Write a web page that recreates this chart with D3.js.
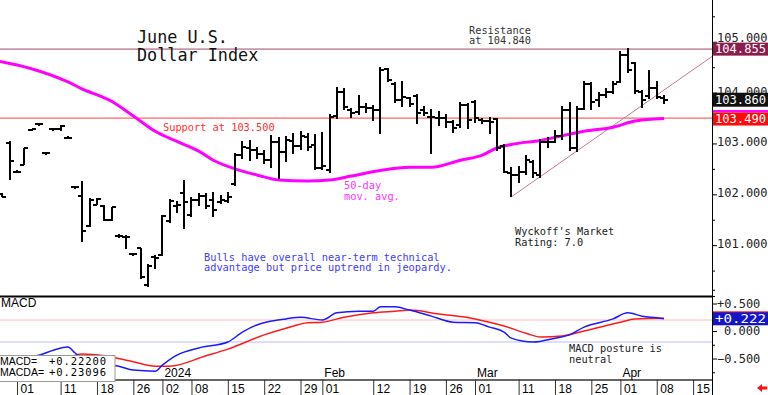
<!DOCTYPE html>
<html><head><meta charset="utf-8">
<script src="https://cdn.jsdelivr.net/npm/d3@7"></script>
<style>
html,body{margin:0;padding:0;background:#fff;}
svg{display:block;}
</style></head><body>
<svg id="c" width="768" height="395"></svg>
<script>
// ---- trading sessions shown on the time axis ----
const sessions = ["2023-11-28","2023-11-29","2023-11-30","2023-12-01","2023-12-04","2023-12-05","2023-12-06","2023-12-07","2023-12-08","2023-12-11","2023-12-12","2023-12-13","2023-12-14","2023-12-15","2023-12-18","2023-12-19","2023-12-20","2023-12-21","2023-12-22","2023-12-26","2023-12-27","2023-12-28","2023-12-29","2024-01-02","2024-01-03","2024-01-04","2024-01-05","2024-01-08","2024-01-09","2024-01-10","2024-01-11","2024-01-12","2024-01-15","2024-01-16","2024-01-17","2024-01-18","2024-01-19","2024-01-22","2024-01-23","2024-01-24","2024-01-25","2024-01-26","2024-01-29","2024-01-30","2024-01-31","2024-02-01","2024-02-02","2024-02-05","2024-02-06","2024-02-07","2024-02-08","2024-02-09","2024-02-12","2024-02-13","2024-02-14","2024-02-15","2024-02-16","2024-02-19","2024-02-20","2024-02-21","2024-02-22","2024-02-23","2024-02-26","2024-02-27","2024-02-28","2024-02-29","2024-03-01","2024-03-04","2024-03-05","2024-03-06","2024-03-07","2024-03-08","2024-03-11","2024-03-12","2024-03-13","2024-03-14","2024-03-15","2024-03-18","2024-03-19","2024-03-20","2024-03-21","2024-03-22","2024-03-25","2024-03-26","2024-03-27","2024-03-28","2024-04-01","2024-04-02","2024-04-03","2024-04-04","2024-04-05","2024-04-08","2024-04-09","2024-04-10","2024-04-11","2024-04-12","2024-04-15","2024-04-16"];

// ---- daily bars (from 2023-11-29 to 2024-04-09) ----
const barDates = sessions.slice(1, 93);
const barOpen = [102.00,103.01,102.44,102.58,103.26,103.38,102.81,103.28,103.28,103.11,
 102.14,101.97,101.38,101.79,101.77,101.49,101.18,101.16,100.82,100.94,
 100.22,100.77,100.80,101.47,101.77,102.02,101.59,101.89,101.97,101.89,
 101.85,101.87,102.20,102.77,102.91,102.87,102.79,102.67,103.03,102.83,
 103.05,102.95,103.13,102.97,102.52,102.48,103.54,104.01,103.66,103.62,
 103.72,103.70,103.66,104.46,104.17,103.85,103.89,103.93,103.66,103.52,
 103.50,103.50,103.42,103.36,103.76,103.81,103.46,103.44,103.48,102.95,
 102.42,102.38,102.44,102.63,102.38,103.03,103.03,103.15,103.66,102.91,
 103.68,104.17,103.85,103.95,104.01,104.21,104.74,104.58,104.01,103.93,
 104.09,103.89];
const barHigh = [102.02,103.03,102.46,102.91,103.28,103.40,102.83,103.30,103.36,103.13,
 102.16,102.26,101.91,101.91,101.77,101.75,101.20,101.18,100.84,100.94,
 100.61,100.79,101.59,101.89,101.85,102.28,101.93,102.02,102.02,102.04,
 101.97,102.04,102.81,103.03,103.05,102.93,102.87,103.15,103.11,103.13,
 103.19,103.24,103.19,103.17,103.22,103.56,104.11,104.09,103.68,103.95,
 103.79,103.75,104.50,104.48,104.19,104.21,103.91,103.97,103.72,103.66,
 103.62,103.56,103.46,103.81,103.79,103.85,103.50,103.52,103.50,102.97,
 102.52,102.54,102.77,102.67,103.07,103.11,103.26,103.72,103.81,103.72,
 104.21,104.19,104.01,104.09,104.21,104.80,104.86,104.60,104.05,104.44,
 104.21,103.95];
const barLow = [101.95,102.30,102.42,102.58,103.26,103.36,102.79,103.26,103.26,103.09,
 102.12,101.08,101.36,101.79,101.49,101.49,101.16,100.94,100.80,100.35,
 100.18,100.55,100.79,101.45,101.65,101.32,101.57,101.77,101.73,101.57,
 101.81,101.83,102.18,102.71,102.67,102.71,102.61,102.52,102.32,102.65,
 102.81,102.89,102.87,102.48,102.48,102.42,103.50,103.66,103.52,103.56,
 103.60,103.46,103.20,104.21,103.81,103.72,103.72,103.40,103.54,102.81,
 103.36,103.32,103.22,103.32,103.30,103.42,103.40,103.20,102.87,102.42,
 101.95,102.24,102.38,102.34,102.34,102.93,103.01,103.07,102.87,102.85,
 103.66,103.66,103.72,103.91,103.99,104.19,104.40,103.99,103.70,103.89,
 103.89,103.79];
const barClose = [101.95,102.65,102.44,102.91,103.28,103.38,102.81,103.28,103.34,103.11,
 102.14,101.28,101.89,101.91,101.49,101.75,101.18,101.16,100.82,100.37,
 100.59,100.75,101.57,101.87,101.79,101.85,101.89,101.97,101.77,101.69,
 101.89,101.95,102.77,102.93,102.87,102.79,102.67,103.03,102.83,103.07,
 102.95,103.15,102.93,102.52,102.56,103.52,104.01,103.72,103.60,103.72,
 103.70,103.66,104.44,104.25,103.85,103.91,103.77,103.60,103.60,103.52,
 103.50,103.42,103.30,103.76,103.46,103.50,103.44,103.42,102.91,102.44,
 102.38,102.44,102.67,102.42,103.03,103.03,103.15,103.66,102.91,103.68,
 104.17,103.81,103.95,104.01,104.17,104.74,104.44,104.03,103.85,104.09,
 103.91,103.86];

// ---- 50-day moving average ----
const maDates = ["2023-11-28","2023-12-05","2023-12-12","2023-12-14","2023-12-20","2023-12-26","2023-12-29","2024-01-04","2024-01-09","2024-01-11","2024-01-16","2024-01-19","2024-01-24","2024-01-30","2024-02-02","2024-02-07","2024-02-13","2024-02-19","2024-02-22","2024-02-28","2024-03-04","2024-03-06","2024-03-08","2024-03-14","2024-03-20","2024-03-22","2024-03-28","2024-04-03","2024-04-09"];
const maValues = [104.63,104.47,104.21,104.07,103.83,103.54,103.24,103.04,102.85,102.67,102.50,102.38,102.28,102.26,102.28,102.36,102.47,102.53,102.53,102.67,102.77,102.91,102.98,103.06,103.18,103.24,103.32,103.44,103.49];

// ---- MACD (blue) and MACD average (red) ----
const macdDates = ["2023-11-28","2023-12-04","2023-12-06","2023-12-08","2023-12-12","2023-12-13","2023-12-15","2023-12-19","2023-12-21","2023-12-26","2023-12-29","2024-01-02","2024-01-04","2024-01-09","2024-01-15","2024-01-17","2024-01-19","2024-01-23","2024-01-25","2024-01-29","2024-02-01","2024-02-05","2024-02-08","2024-02-12","2024-02-13","2024-02-15","2024-02-19","2024-02-22","2024-02-27","2024-03-01","2024-03-05","2024-03-07","2024-03-08","2024-03-13","2024-03-18","2024-03-20","2024-03-22","2024-03-28","2024-04-02","2024-04-04","2024-04-08","2024-04-09"];
const macdValues = [-0.52,-0.47,-0.44,-0.35,-0.29,-0.40,-0.56,-0.60,-0.64,-0.71,-0.73,-0.62,-0.44,-0.31,-0.20,-0.02,0.11,0.18,0.22,0.25,0.20,0.33,0.36,0.36,0.44,0.44,0.38,0.27,0.16,0.15,0.07,-0.02,-0.13,-0.20,-0.13,-0.07,0.07,0.22,0.33,0.27,0.24,0.222];
const signalDates = ["2023-11-28","2023-12-12","2023-12-14","2023-12-19","2023-12-26","2023-12-29","2024-01-03","2024-01-10","2024-01-15","2024-01-22","2024-01-25","2024-01-30","2024-02-01","2024-02-06","2024-02-12","2024-02-15","2024-02-19","2024-02-23","2024-03-01","2024-03-05","2024-03-07","2024-03-12","2024-03-14","2024-03-19","2024-03-22","2024-04-01","2024-04-03","2024-04-09"];
const signalValues = [-0.52,-0.47,-0.42,-0.45,-0.56,-0.64,-0.64,-0.45,-0.33,-0.07,0.05,0.15,0.16,0.25,0.33,0.36,0.38,0.31,0.22,0.16,0.09,-0.04,-0.11,-0.09,0.00,0.16,0.22,0.231];

// ---- axis labels ----
const tickDates = ["2023-12-01","2023-12-11","2023-12-18","2023-12-26","2024-01-02","2024-01-08","2024-01-15","2024-01-22","2024-01-29","2024-02-01","2024-02-12","2024-02-19","2024-02-26","2024-03-01","2024-03-11","2024-03-18","2024-03-25","2024-04-01","2024-04-08","2024-04-15"];
const tickLabels = ["01","11","18","26","02","08","15","22","29","01","12","19","26","01","11","18","25","01","08","15"];
const monthDates = ["2024-01-02","2024-02-01","2024-03-01","2024-04-01"];
const monthLabels = ["2024","Feb","Mar","Apr"];
const priceTicks = [101,102,103,104,105];
const macdTicks = [0.5,0,-0.5];

// reference levels
const resistance = 104.855, support = 103.5, lastClose = 103.86, lastMA = 103.49;
const macdLast = 0.222, macdRefHi = 0.2, macdRefLo = -0.2;
const trendDates = ["2024-03-08","2024-03-21"], trendValues = [101.95, 102.85];

// ---------------- drawing ----------------
const svg = d3.select("#c");
const W = 712;
const sIdx = new Map(sessions.map((d,i)=>[d,i]));
const x = d3.scaleLinear().domain([0.662, 98.6]).range([0, W]);
const y = d3.scaleLinear().domain([100, 105]).range([296, 41.75]);
const ym = d3.scaleLinear().domain([-0.5, 0.5]).range([358.5, 303.5]);
const mono = "'DejaVu Sans Mono', monospace";
const sans = "'Liberation Sans', Arial, sans-serif";

svg.append("rect").attr("width",768).attr("height",395).attr("fill","#fff");
const defs = svg.append("defs");
defs.append("clipPath").attr("id","cp").append("rect").attr("x",0).attr("y",0).attr("width",W).attr("height",296);
defs.append("clipPath").attr("id","cm").append("rect").attr("x",0).attr("y",297).attr("width",W).attr("height",82);

const gp = svg.append("g").attr("clip-path","url(#cp)");
// resistance & support lines
gp.append("line").attr("x1",0).attr("x2",W).attr("y1",y(resistance)).attr("y2",y(resistance)).attr("stroke","#c896aa").attr("stroke-width",1.6);
gp.append("line").attr("x1",0).attr("x2",W).attr("y1",y(support)).attr("y2",y(support)).attr("stroke","#ff6464").attr("stroke-width",1.2);
// trendline (extended to the right edge)
const t0 = sIdx.get(trendDates[0]), t1 = sIdx.get(trendDates[1]);
const slope = (trendValues[1]-trendValues[0])/(t1-t0);
const tEnd = x.domain()[1];
gp.append("line").attr("x1",x(t0)).attr("y1",y(trendValues[0]))
  .attr("x2",x(tEnd)).attr("y2",y(trendValues[0]+slope*(tEnd-t0)))
  .attr("stroke","#c07898").attr("stroke-width",1);
// moving average
const maLine = d3.line().x(d=>x(sIdx.get(d[0]))).y(d=>y(d[1])).curve(d3.curveMonotoneX);
gp.append("path").attr("d",maLine(maDates.map((d,i)=>[d,maValues[i]])))
  .attr("fill","none").attr("stroke","#ff00ff").attr("stroke-width",3);
// OHLC bars
const bars = barDates.map((d,i)=>({s:sIdx.get(d),o:barOpen[i],h:barHigh[i],l:barLow[i],c:barClose[i]}));
const bg = gp.append("g").attr("stroke","#000").attr("shape-rendering","crispEdges");
bg.selectAll(".v").data(bars).join("line")
  .attr("x1",d=>Math.round(x(d.s))).attr("x2",d=>Math.round(x(d.s)))
  .attr("y1",d=>y(d.h)-0.5).attr("y2",d=>y(d.l)+0.5).attr("stroke-width",2);
bg.selectAll(".o").data(bars).join("line")
  .attr("x1",d=>Math.round(x(d.s))-4).attr("x2",d=>Math.round(x(d.s)))
  .attr("y1",d=>y(d.o)).attr("y2",d=>y(d.o)).attr("stroke-width",2);
bg.selectAll(".cl").data(bars).join("line")
  .attr("x1",d=>Math.round(x(d.s))).attr("x2",d=>Math.round(x(d.s))+4)
  .attr("y1",d=>y(d.c)).attr("y2",d=>y(d.c)).attr("stroke-width",2);

// MACD panel
const gm = svg.append("g").attr("clip-path","url(#cm)");
gm.append("line").attr("x1",0).attr("x2",W).attr("y1",ym(macdRefHi)).attr("y2",ym(macdRefHi)).attr("stroke","#ffbcbc").attr("stroke-width",1);
gm.append("line").attr("x1",0).attr("x2",W).attr("y1",ym(macdRefLo)).attr("y2",ym(macdRefLo)).attr("stroke","#bcbcff").attr("stroke-width",1);
const mLine = d3.line().x(d=>x(sIdx.get(d[0]))).y(d=>ym(d[1])).curve(d3.curveMonotoneX);
gm.append("path").attr("d",mLine(signalDates.map((d,i)=>[d,signalValues[i]])))
  .attr("fill","none").attr("stroke","#ff1a1a").attr("stroke-width",1.5);
gm.append("path").attr("d",mLine(macdDates.map((d,i)=>[d,macdValues[i]])))
  .attr("fill","none").attr("stroke","#1a1aff").attr("stroke-width",1.5);

// panel separator
svg.append("line").attr("x1",0).attr("x2",W).attr("y1",296.5).attr("y2",296.5).attr("stroke","#000").attr("stroke-width",2);

// date axis
const xa = svg.append("g").attr("transform","translate(0,379.5)")
  .call(d3.axisBottom(x).tickValues(tickDates.map(d=>sIdx.get(d))).tickSize(16).tickSizeOuter(0)
        .tickFormat((d,i)=>tickLabels[i]));
xa.select(".domain").attr("stroke","#333").attr("stroke-width",1.5);
xa.selectAll(".tick line").attr("stroke","#333");
xa.selectAll(".tick text").attr("x",3).attr("y",4).attr("dy","0.78em").attr("text-anchor","start")
  .attr("font-family",sans).attr("font-size",12).attr("fill","#000");
svg.append("g").selectAll("text").data(monthDates).join("text")
  .attr("x",d=>x(sIdx.get(d))+2).attr("y",377).text((d,i)=>monthLabels[i])
  .attr("font-family",sans).attr("font-size",12).attr("fill","#000");

// right axes
svg.append("line").attr("x1",W+0.5).attr("x2",W+0.5).attr("y1",0).attr("y2",395).attr("stroke","#000");
const ya = svg.append("g").attr("transform",`translate(${W},0)`)
  .call(d3.axisRight(y).tickValues(priceTicks).tickSize(5).tickFormat(d3.format(".3f")));
ya.select(".domain").remove();
ya.selectAll("text").attr("x",5).attr("dy",d=>d===105?"0.0em":"0.2em").attr("font-family",mono).attr("font-size",12).attr("fill","#222");
const minor = svg.append("g").attr("transform",`translate(${W},0)`)
  .call(d3.axisRight(y).tickValues(d3.range(99.5,106,0.5).filter(v=>!priceTicks.includes(v))).tickSize(3).tickFormat(""));
minor.select(".domain").remove();
const ma = svg.append("g").attr("transform",`translate(${W},0)`)
  .call(d3.axisRight(ym).tickValues(macdTicks).tickSize(5).tickFormat(d=>d>0?"+"+d3.format(".3f")(d):d3.format(".3f")(d)));
ma.select(".domain").remove();
ma.selectAll("text").attr("x",d=>d===0?12:5).attr("dy","0.3em").attr("font-family",mono).attr("font-size",12).attr("fill","#222");
const mminor = svg.append("g").attr("transform",`translate(${W},0)`)
  .call(d3.axisRight(ym).tickValues([0.75,0.25,-0.25,-0.75]).tickSize(3).tickFormat(""));
mminor.select(".domain").remove();

// value boxes on the right
function box(yc, fill, txt, h){
  const g = svg.append("g");
  g.append("rect").attr("x",W+1).attr("y",yc-h/2).attr("width",768-W-1).attr("height",h).attr("fill",fill);
  g.append("text").attr("x",W+3).attr("y",yc+4.3).text(txt).attr("fill","#fff")
   .attr("font-family",mono).attr("font-size",12).attr("textLength",51).attr("lengthAdjust","spacingAndGlyphs");
}
box(y(resistance), "#8b1c4c", d3.format(".3f")(resistance), 13);
svg.append("rect").attr("x",W+1).attr("y",y(lastMA)-8.5).attr("width",768-W-1).attr("height",2.5).attr("fill","#ff00ff");
box(y(lastMA)+0.5, "#ff0a0a", d3.format(".3f")(lastMA), 13);
box(y(lastClose), "#111", d3.format(".3f")(lastClose), 14);
svg.append("rect").attr("x",W+1).attr("y",ym(macdLast)-7.5).attr("width",768-W-1).attr("height",2).attr("fill","#ff2020");
box(ym(macdLast), "#1414c8", "+"+d3.format(".3f")(macdLast), 13);

// annotations
function txt(x0, y0, lines, color, size, lh, family){
  const t = svg.append("text").attr("font-family",family||mono).attr("font-size",size).attr("fill",color);
  lines.forEach((s,i)=>t.append("tspan").attr("x",x0).attr("y",y0+i*lh).text(s));
}
txt(137, 43, ["June U.S.","Dollar Index"], "#111", 16.8, 18);
txt(469, 33.5, ["Resistance","at 104.840"], "#333", 10.3, 10.5);
txt(163, 131, ["Support at 103.500"], "#ff3030", 10.3, 11);
txt(344, 189, ["50-day","mov. avg."], "#ff33ff", 10.3, 11);
txt(204, 260.5, ["Bulls have overall near-term technical","advantage but price uptrend in jeopardy."], "#3c3cff", 10.3, 10.5);
txt(515, 235, ["Wyckoff's Market","Rating: 7.0"], "#222", 10.3, 10.5);
txt(569, 352, ["MACD posture is","neutral"], "#222", 10.3, 10.5);
txt(1, 307, ["MACD"], "#000", 12, 12, sans);

// MACD legend box
svg.append("rect").attr("x",-1).attr("y",355.5).attr("width",116).attr("height",26).attr("fill","#fff").attr("stroke","#9a9a9a");
const legNames = ["MACD=","MACDA="], legVals = ["+0.22200","+0.23096"];
legNames.forEach((s,i)=>{
  svg.append("text").attr("x",0).attr("y",365+i*11).text(s).attr("font-family",sans).attr("font-size",10.5).attr("fill","#000");
  svg.append("text").attr("x",49).attr("y",365+i*11).text(legVals[i]).attr("font-family",mono).attr("font-size",10.5)
     .attr("textLength",57).attr("lengthAdjust","spacing").attr("fill","#000");
});

// red arrow bottom-right
svg.append("path").attr("d","M757,388 L762,384 L762,386.5 L767,386.5 L767,389.5 L762,389.5 L762,392 Z").attr("fill","#ff1010");
</script>
</body></html>
